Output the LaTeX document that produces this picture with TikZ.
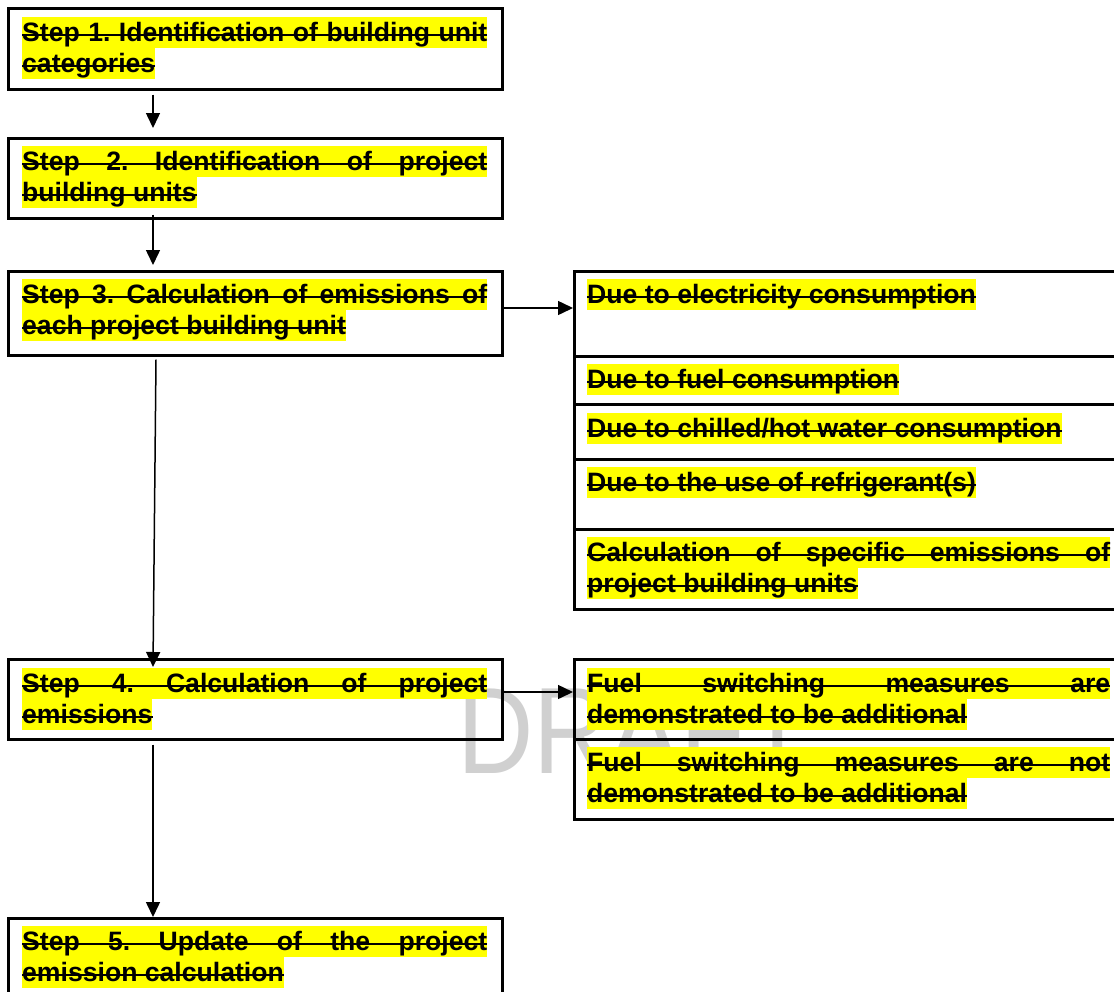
\documentclass[tikz,border=0pt]{standalone}
\usepackage{fontspec}
\setmainfont{Liberation Sans}
\usetikzlibrary{arrows.meta,calc}
\definecolor{draftgray}{RGB}{208,208,208}
\definecolor{hlyellow}{RGB}{255,255,0}
\frenchspacing
\newcommand\hlt[4]{%
  \node[hl] (#1) at (#2,#3) {#4};
  \draw[strike] ([yshift=6.7pt]#1.base west) -- ([yshift=6.7pt]#1.base east);
}
\newcommand\jl[2]{\makebox[#1pt][s]{#2}}
\begin{document}
\begin{tikzpicture}[x=1pt,y=-1pt,
  box/.style={draw=black,line width=2.6pt,inner sep=0pt,anchor=north west},
  hl/.style={fill=hlyellow,inner xsep=0pt,inner ysep=0pt,text height=24.4pt,text depth=6.6pt,anchor=north west,
    font=\fontsize{26.6}{30}\selectfont\bfseries\frenchspacing},
  strike/.style={line width=1.6pt,black},
  arr/.style={line width=1.5pt,-{Triangle[length=15pt,width=14pt]}}]
\useasboundingbox (0,0) rectangle (1114,991);
% watermark
\node[anchor=base west,inner sep=0pt,text=draftgray,font=\fontsize{123}{123}\selectfont] (draft) at (457,773) {\scalebox{0.86}[1]{DRAFT}};
% left boxes
\node[box,minimum width=494pt,minimum height=81pt] (b1) at (7,7) {};
\node[box,minimum width=494pt,minimum height=80pt] (b2) at (7,137) {};
\node[box,minimum width=494pt,minimum height=84pt] (b3) at (7,270) {};
\node[box,minimum width=494pt,minimum height=80pt] (b4) at (7,658) {};
\node[box,minimum width=494pt,minimum height=90pt] (b5) at (7,917) {};
% right group A
\node[box,minimum width=551pt,minimum height=85pt] (rA1) at (573,270) {};
\node[box,minimum width=551pt,minimum height=48pt] (rA2) at (573,355) {};
\node[box,minimum width=551pt,minimum height=55pt] (rA3) at (573,403) {};
\node[box,minimum width=551pt,minimum height=70pt] (rA4) at (573,458) {};
\node[box,minimum width=551pt,minimum height=80pt] (rA5) at (573,528) {};
% right group B
\node[box,minimum width=551pt,minimum height=80pt] (rB1) at (573,658) {};
\node[box,minimum width=551pt,minimum height=80pt] (rB2) at (573,738) {};
% texts
\hlt{t1a}{22}{17}{\jl{465}{Step 1. Identification of building unit}}
\hlt{t1b}{22}{48}{categories}
\hlt{t2a}{22}{146}{\jl{465}{Step 2. Identification of project}}
\hlt{t2b}{22}{177}{building units}
\hlt{t3a}{22}{279}{\jl{465}{Step 3. Calculation of emissions of}}
\hlt{t3b}{22}{310}{each project building unit}
\hlt{t4a}{22}{668}{\jl{465}{Step 4. Calculation of project}}
\hlt{t4b}{22}{699}{emissions}
\hlt{t5a}{22}{926}{\jl{465}{Step 5. Update of the project}}
\hlt{t5b}{22}{957}{emission calculation}
\hlt{r1}{587}{279}{Due to electricity consumption}
\hlt{r2}{587}{364}{Due to fuel consumption}
\hlt{r3}{587}{413}{Due to chilled/hot water consumption}
\hlt{r4}{587}{467}{Due to the use of refrigerant(s)}
\hlt{r5a}{587}{537}{\jl{523}{Calculation of specific emissions of}}
\hlt{r5b}{587}{568}{project building units}
\hlt{s1a}{587}{668}{\jl{523}{Fuel switching measures are}}
\hlt{s1b}{587}{699}{demonstrated to be additional}
\hlt{s2a}{587}{747}{\jl{523}{Fuel switching measures are not}}
\hlt{s2b}{587}{778}{demonstrated to be additional}
% connectors
\draw[arr] ($(b1.south west)+(146,4)$) -- ($(b2.north west)+(146,-9)$);
\draw[arr] ($(b2.south west)+(146,-5)$) -- ($(b3.north west)+(146,-5)$);
\draw[arr] ($(b3.north east)+(0,38)$) -- ($(rA1.north west)+(0,38)$);
\draw[arr] ($(b3.south west)+(149,3)$) -- ($(b4.north west)+(146,9)$);
\draw[arr] ($(b4.north east)+(0,34)$) -- ($(rB1.north west)+(0,34)$);
\draw[arr] ($(b4.south west)+(146,4)$) -- ($(b5.north west)+(146,0)$);
\end{tikzpicture}
\end{document}
